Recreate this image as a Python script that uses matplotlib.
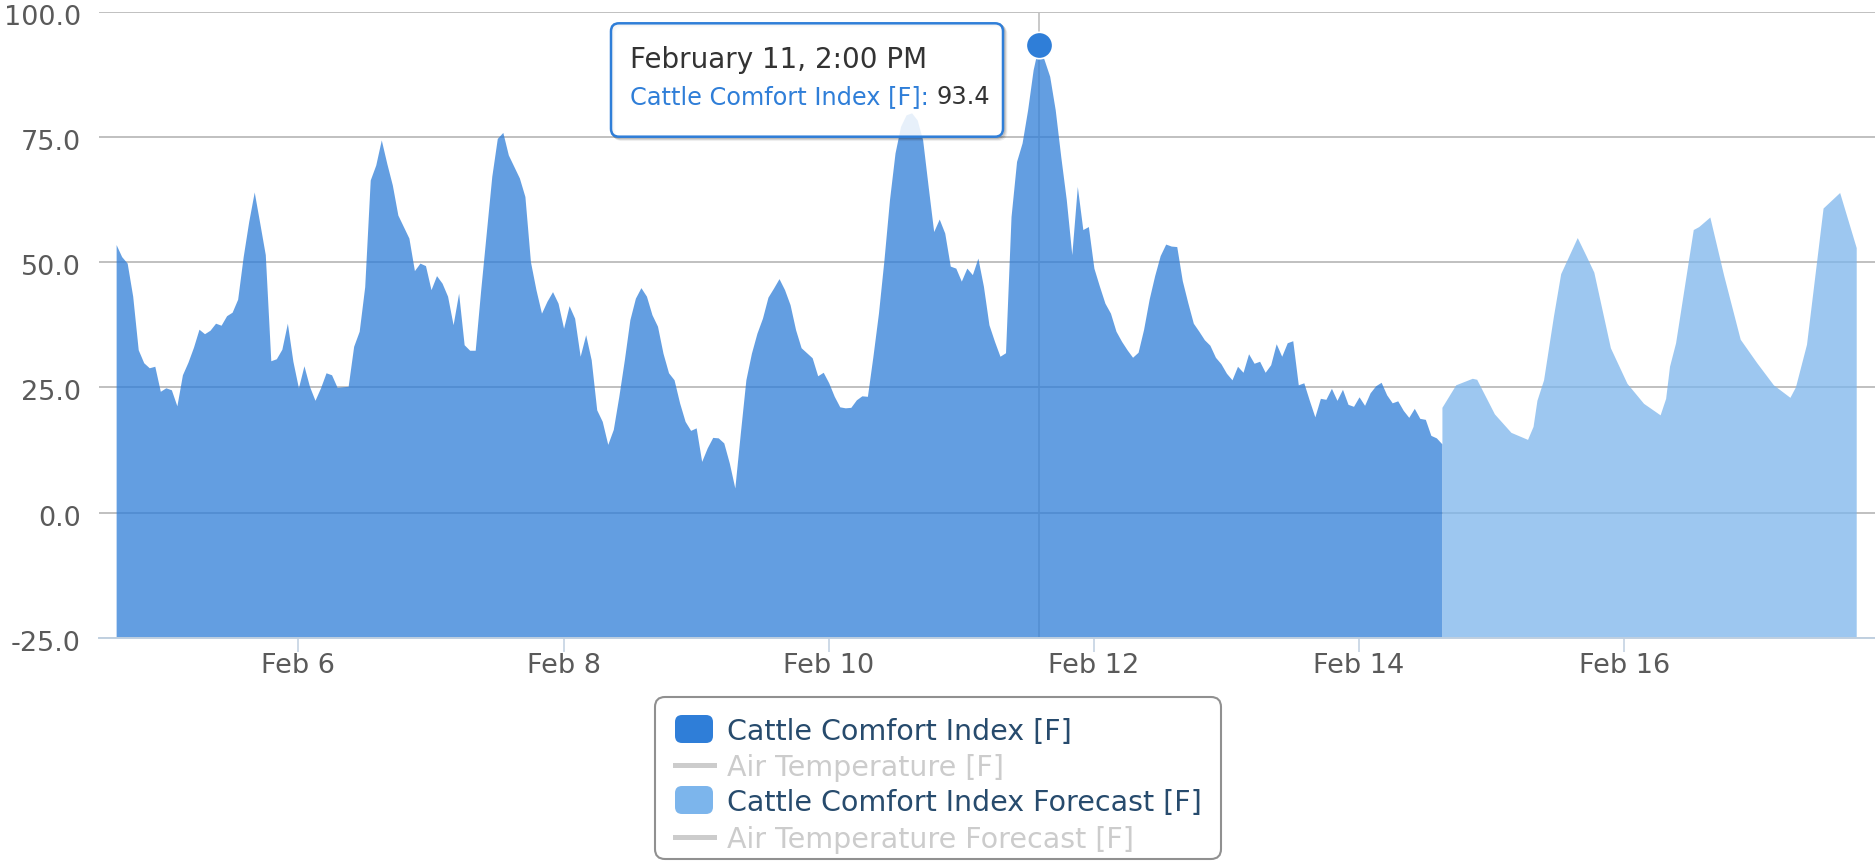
import matplotlib
matplotlib.use("Agg")
import matplotlib.pyplot as plt
import matplotlib.dates as mdates
from matplotlib.patches import FancyBboxPatch
from matplotlib.lines import Line2D
from matplotlib.transforms import IdentityTransform, ScaledTranslation
import numpy as np
import pandas as pd

# Cattle Comfort Index [F], hourly, first reading Feb 4 15:00
cci_start = "2015-02-04 15:00"
cci_values = [
    53.5, 51.1, 49.8, 43.2, 32.5, 29.9, 28.9, 29.2, 24.2, 24.9, 24.5, 21.3,
    27.5, 30.0, 33.0, 36.6, 35.7, 36.4, 37.8, 37.4, 39.3, 40.0, 42.6, 51.1,
    58.1, 64.0, 57.8, 51.5, 30.3, 30.7, 32.6, 37.8, 30.2, 24.9, 29.3, 25.2,
    22.4, 24.9, 27.9, 27.5, 25.0, 25.1, 25.2, 33.2, 36.2, 45.1, 66.4, 69.4,
    74.4, 69.7, 65.4, 59.4, 57.1, 54.8, 48.3, 49.8, 49.3, 44.5, 47.3, 45.8,
    43.2, 37.5, 43.8, 33.5, 32.4, 32.4, 44.5, 55.8, 67.1, 74.7, 75.9, 71.4,
    69.1, 66.8, 63.1, 50.1, 44.5, 39.8, 42.2, 44.1, 41.8, 36.8, 41.3, 38.8,
    31.2, 35.5, 30.5, 20.5, 18.2, 13.6, 16.6, 23.2, 30.5, 38.5, 42.8, 44.9,
    43.2, 39.5, 37.2, 31.8, 27.9, 26.5, 21.9, 18.2, 16.4, 16.9, 10.2, 12.9,
    15.0, 14.9, 13.9, 9.9, 4.9, 15.9, 26.5, 31.8, 35.8, 38.8, 43.0, 44.8,
    46.7, 44.5, 41.5, 36.5, 32.9, 31.9, 30.9, 27.3, 28.0, 25.9, 23.2, 21.1,
    20.9, 21.0, 22.5, 23.3, 23.2, 31.2, 39.8, 50.5, 62.5, 71.8, 77.1, 79.4,
    79.8, 78.4, 74.4, 65.1, 56.1, 58.6, 55.8, 49.2, 48.8, 46.2, 48.8, 47.5,
    50.8, 45.2, 37.5, 34.2, 31.2, 31.9, 59.1, 70.1, 73.8, 80.4, 88.4, 93.4,
    90.4, 87.1, 80.4, 71.1, 62.5, 51.5, 65.1, 56.5, 57.1, 48.8, 45.2, 41.8,
    39.8, 36.2, 34.2, 32.5, 31.0, 32.0, 36.6, 42.6, 47.3, 51.3, 53.6, 53.2,
    53.1, 46.3, 41.9, 37.8, 36.2, 34.5, 33.4, 31.0, 29.7, 27.8, 26.5, 29.2,
    28.0, 31.7, 29.8, 30.2, 28.0, 29.5, 33.7, 31.2, 33.9, 34.3, 25.5, 25.9,
    22.4, 19.1, 22.8, 22.6, 24.8, 22.4, 24.6, 21.6, 21.2, 23.1, 21.4, 23.9,
    25.3, 26.0, 23.5, 21.9, 22.3, 20.4, 19.0, 20.8, 18.8, 18.6, 15.4, 14.9,
    13.7,
]

# Cattle Comfort Index Forecast [F], hours after Feb 6 00:00
forecast_hours = [
    207, 209.5, 212.5, 213.3, 216.5, 219.5, 222.5, 223.5, 224.2, 225.4,
    227.2, 228.5, 231.5, 233, 234.5, 237.5, 240.5, 243.5, 246.5, 247.5,
    248.2, 249.3, 252.5, 253.5, 255.5, 258, 261, 264, 267, 270, 271, 273,
    276, 279, 282,
]
forecast_values = [
    21.0, 25.5, 26.8, 26.6, 19.7, 16.0, 14.6, 17.2, 22.4, 26.5,
    39.3, 47.7, 54.9, 51.5, 48.0, 32.9, 25.8, 21.8, 19.5, 22.8,
    29.2, 33.9, 56.5, 57.1, 59.0, 47.4, 34.6, 29.9, 25.5, 23.0, 25.1, 33.6,
    60.8, 63.9, 52.9,
]

legend_labels = ["Cattle Comfort Index [F]", "Air Temperature [F]",
                 "Cattle Comfort Index Forecast [F]", "Air Temperature Forecast [F]"]

base = pd.Timestamp("2015-02-06")
cci_times = pd.date_range(cci_start, periods=len(cci_values), freq="h")
fc_times = base + pd.to_timedelta(forecast_hours, unit="h")

W, H = 1875, 861
fig = plt.figure(figsize=(W / 100, H / 100), dpi=100)
plt.rcParams['font.family'] = ['DejaVu Sans']
ax = fig.add_axes([99 / W, 1 - 637.7 / H, (W - 99) / W, (637.7 - 11.7) / H])

blue = '#2f7ed8'
light = '#7cb5ec'
ax.fill_between(cci_times, cci_values, -25, color=blue, alpha=0.75, lw=0, zorder=2)
ax.fill_between(fc_times, forecast_values, -25, color=light, alpha=0.75, lw=0, zorder=2)

# hovered point
i_peak = int(np.argmax(cci_values))
t_peak = cci_times[i_peak]
ax.axvline(t_peak, color='#c0c0c0', lw=1.2, zorder=1.5)
ax.plot([t_peak], [cci_values[i_peak]], 'o', ms=19, mfc=blue, mec='white',
        mew=1.2, zorder=5, clip_on=False)

ax.set_ylim(-25, 100)
ax.set_xlim(base - pd.Timedelta(hours=36.1), base + pd.Timedelta(hours=285.4))
ax.set_yticks([-25, 0, 25, 50, 75, 100])
ax.yaxis.set_major_formatter(plt.FuncFormatter(lambda v, p: f"{v:.1f}"))
ax.xaxis.set_major_locator(mdates.DayLocator(bymonthday=[6, 8, 10, 12, 14, 16]))
ax.xaxis.set_major_formatter(plt.FuncFormatter(
    lambda v, p: f"{mdates.num2date(v):%b} {mdates.num2date(v).day}"))

ax.grid(axis='y', color='#c0c0c0', lw=1.4)
ax.set_axisbelow(True)
for s in ['top', 'left', 'right']:
    ax.spines[s].set_visible(False)
ax.spines['bottom'].set_color('#c0d0e0')
ax.spines['bottom'].set_linewidth(1.4)
ax.spines['bottom'].set_zorder(3)
ax.tick_params(axis='y', length=0, pad=13, labelsize=19.5, labelcolor='#5a5a5a')
ax.tick_params(axis='x', length=10, width=1.1, color='#c0d0e0', pad=1,
               labelsize=19.5, labelcolor='#5a5a5a')
shift = ScaledTranslation(0, -3 / 100, fig.dpi_scale_trans)
for lab in ax.get_yticklabels():
    lab.set_transform(lab.get_transform() + shift)

ident = IdentityTransform()

# tooltip
tx0, ty0, tx1, ty1 = 611, 23.3, 1003, 136.7
for off, a in [(3, 0.06), (2, 0.1), (1, 0.15)]:
    fig.add_artist(FancyBboxPatch((tx0 + off, H - ty1 - off), tx1 - tx0, ty1 - ty0,
                                  boxstyle="round,pad=0,rounding_size=8",
                                  fc='none', ec='black', alpha=a, lw=2,
                                  transform=ident))
fig.add_artist(FancyBboxPatch((tx0, H - ty1), tx1 - tx0, ty1 - ty0,
                              boxstyle="round,pad=0,rounding_size=8",
                              fc=(1, 1, 1, 0.85), ec=blue, lw=1.8, transform=ident))
fig.text(630, H - 60.5, "February 11, 2:00 PM", transform=ident, fontsize=20,
         color='#333333', va='center')
t1 = fig.text(630, H - 104, "Cattle Comfort Index [F]: ", transform=ident,
              fontsize=17.3, color=blue, va='baseline')
fig.canvas.draw()
bb = t1.get_window_extent()
fig.text(bb.x1, H - 104, f"{cci_values[i_peak]:.1f}", transform=ident,
         fontsize=17.3, color='#333333', va='baseline')

# legend
fig.add_artist(FancyBboxPatch((655, H - 859), 1221 - 655, 859 - 697,
                              boxstyle="round,pad=0,rounding_size=10",
                              fc='white', ec='#909090', lw=1.5, transform=ident))
rows = [729, 765, 800, 836.5]
kinds = [(blue, True), ('#cccccc', False), (light, True), ('#cccccc', False)]
for label, yc, (col, active) in zip(legend_labels, rows, kinds):
    yd = H - yc
    if active:
        fig.add_artist(FancyBboxPatch((675, yd - 14), 38, 28,
                                      boxstyle="round,pad=0,rounding_size=7",
                                      fc=col, ec='none', transform=ident))
        tc = '#274b6d'
    else:
        fig.add_artist(Line2D([675, 714], [yd, yd], color=col, lw=3.6,
                              transform=ident))
        tc = '#cccccc'
    fig.text(727, yd, label, transform=ident, fontsize=20.5, color=tc,
             va='center_baseline')

fig.savefig("out.png", dpi=100)
